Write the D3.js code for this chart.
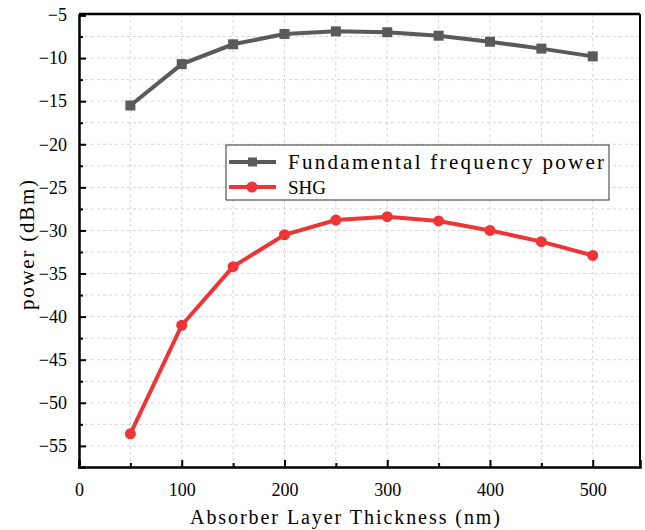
<!doctype html>
<html lang="en">
<head>
  <meta charset="UTF-8">
  <title>Power vs absorber layer thickness</title>
  <script src="https://cdnjs.cloudflare.com/ajax/libs/d3/7.8.5/d3.min.js"></script>
  <style>
  body { margin: 0; background: #fff; }
  </style>
</head>
<body>
<script>

var thickness = [50, 100, 150, 200, 250, 300, 350, 400, 450, 500];
var fundamental = [-15.5, -10.7, -8.4, -7.2, -6.9, -7.0, -7.4, -8.1, -8.9, -9.8];
var shg = [-53.6, -41.0, -34.2, -30.5, -28.8, -28.4, -28.9, -30.0, -31.3, -32.9];
var xTicks = [0, 100, 200, 300, 400, 500];
var yTicks = [-5, -10, -15, -20, -25, -30, -35, -40, -45, -50, -55];
var seriesNames = ["Fundamental frequency power", "SHG"];

var w = 645, h = 530;
var mLeft = 79, mRight = 640, mTop = 14, mBottom = 467;
var serif = '"Liberation Serif", "Times New Roman", serif';

var svg = d3.select('body')
  .append('svg')
  .attr('width', w)
  .attr('height', h);

var x = d3.scaleLinear().domain([0, 546]).range([mLeft, mRight]);
var y = d3.scaleLinear().domain([-57.45, -5]).range([mBottom, mTop + 1]);

// dashed grid, major + minor
var gx = d3.range(50, 546, 50);
var gy = d3.range(-55, -5, 2.5);
svg.append('g').selectAll('line').data(gx).enter().append('line')
  .attr('x1', function(d) { return x(d); })
  .attr('x2', function(d) { return x(d); })
  .attr('y1', mTop).attr('y2', mBottom)
  .attr('stroke', '#d4d4d4').attr('stroke-dasharray', '3,3');
svg.append('g').selectAll('line').data(gy).enter().append('line')
  .attr('y1', function(d) { return y(d); })
  .attr('y2', function(d) { return y(d); })
  .attr('x1', mLeft).attr('x2', mRight)
  .attr('stroke', '#d4d4d4').attr('stroke-dasharray', '3,3');

// frame top/right
svg.append('line').attr('x1', mLeft).attr('x2', mRight).attr('y1', mTop).attr('y2', mTop)
  .attr('stroke', '#000').attr('stroke-width', 2.5);
svg.append('line').attr('x1', mRight).attr('x2', mRight).attr('y1', mTop).attr('y2', mBottom)
  .attr('stroke', '#000').attr('stroke-width', 2);

// axes with inward ticks
svg.append('g')
  .attr('transform', 'translate(0,' + mBottom + ')')
  .call(d3.axisBottom(x).tickValues(xTicks).tickSize(-7).tickPadding(16).tickFormat(d3.format('d')));
svg.append('g')
  .attr('transform', 'translate(0,' + mBottom + ')')
  .call(d3.axisBottom(x).tickValues(d3.range(50, 546, 100)).tickSize(-4).tickFormat(''))
  .select('.domain').remove();
var yAxis = svg.append('g')
  .attr('transform', 'translate(' + mLeft + ',0)')
  .call(d3.axisLeft(y).tickValues(yTicks).tickSize(-7).tickPadding(16));
svg.append('g')
  .attr('transform', 'translate(' + mLeft + ',0)')
  .call(d3.axisLeft(y).tickValues(d3.range(-52.5, -5, 5)).tickSize(-4).tickFormat(''))
  .select('.domain').remove();

svg.selectAll('.domain').attr('stroke-width', 2.5).attr('stroke', '#000');
svg.selectAll('.tick line').attr('stroke-width', 2).attr('stroke', '#000');
svg.selectAll('.tick text')
  .attr('font-family', serif)
  .attr('font-size', '18px')
  .attr('fill', '#000');
yAxis.selectAll('.tick text').attr('dx', '4px');

// axis titles
svg.append('text')
  .attr('x', 190)
  .attr('y', 524)
  .attr('font-family', serif)
  .attr('font-size', '20px')
  .attr('textLength', 310)
  .attr('lengthAdjust', 'spacing')
  .text('Absorber Layer Thickness (nm)');
svg.append('text')
  .attr('transform', 'translate(34,' + 310 + ') rotate(-90)')
  .attr('font-family', serif)
  .attr('font-size', '21px')
  .attr('textLength', 130)
  .attr('lengthAdjust', 'spacing')
  .text('power (dBm)');

var colors = ['#5a5a5a', '#ee3535'];
var series = [fundamental, shg];

var line = d3.line()
  .x(function(d, i) { return x(thickness[i]); })
  .y(function(d) { return y(d); });

series.forEach(function(s, k) {
  svg.append('path')
    .attr('d', line(s))
    .attr('fill', 'none')
    .attr('stroke', colors[k])
    .attr('stroke-width', 4);
});

svg.selectAll('rect.m')
  .data(fundamental)
  .enter()
  .append('rect')
  .attr('class', 'm')
  .attr('x', function(d, i) { return x(thickness[i]) - 5; })
  .attr('y', function(d) { return y(d) - 5; })
  .attr('width', 10)
  .attr('height', 10)
  .attr('fill', colors[0]);

svg.selectAll('circle')
  .data(shg)
  .enter()
  .append('circle')
  .attr('cx', function(d, i) { return x(thickness[i]); })
  .attr('cy', function(d) { return y(d); })
  .attr('r', 5.5)
  .attr('fill', colors[1]);

// legend
var lg = svg.append('g');
lg.append('rect')
  .attr('x', 226).attr('y', 145).attr('width', 383).attr('height', 55)
  .attr('fill', '#fff').attr('stroke', '#333').attr('stroke-width', 1);
seriesNames.forEach(function(name, k) {
  var ly = 162 + k * 25;
  lg.append('line')
    .attr('x1', 229).attr('x2', 276).attr('y1', ly).attr('y2', ly)
    .attr('stroke', colors[k]).attr('stroke-width', 4);
  if (k === 0) {
    lg.append('rect').attr('x', 248).attr('y', ly - 4.5).attr('width', 9).attr('height', 9).attr('fill', colors[k]);
  } else {
    lg.append('circle').attr('cx', 252).attr('cy', ly).attr('r', 5.5).attr('fill', colors[k]);
  }
  var t = lg.append('text')
    .attr('x', 288).attr('y', ly + 7)
    .attr('font-family', serif)
    .attr('font-size', k === 0 ? '21px' : '19px')
    .text(name);
  if (k === 0) t.attr('textLength', 316).attr('lengthAdjust', 'spacing');
});

</script>
</body>
</html>
